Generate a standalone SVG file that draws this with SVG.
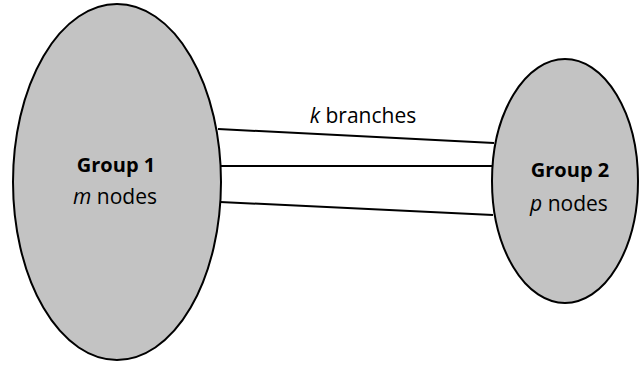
<svg xmlns="http://www.w3.org/2000/svg" width="640" height="366" viewBox="0 0 640 366">
<style>
.node{fill:#c3c3c3;stroke:#000;stroke-width:2}
.edge{stroke:#000;stroke-width:2;fill:none}
text{font-family:"Open Sans","Noto Sans",sans-serif;font-size:21px;fill:#000;text-anchor:middle}
.b{font-weight:bold;font-size:20px}
.i{font-style:italic}
</style>
<rect width="640" height="366" fill="#fff"/>
<g id="connectors">
<line class="edge" x1="218" y1="129" x2="494" y2="143"/>
<line class="edge" x1="221" y1="166" x2="492" y2="166"/>
<line class="edge" x1="220" y1="202" x2="493" y2="215"/>
</g>
<g id="label-k">
<text x="363" y="123"><tspan class="i">k</tspan> branches</text>
</g>
<g id="group1">
<ellipse class="node" cx="117" cy="182" rx="104" ry="178"/>
<text class="b" x="116" y="172">Group 1</text>
<text x="115" y="204"><tspan class="i">m</tspan> nodes</text>
</g>
<g id="group2">
<ellipse class="node" cx="565" cy="181" rx="73" ry="122"/>
<text class="b" x="570" y="177">Group 2</text>
<text x="569" y="211"><tspan class="i">p</tspan> nodes</text>
</g>
</svg>
